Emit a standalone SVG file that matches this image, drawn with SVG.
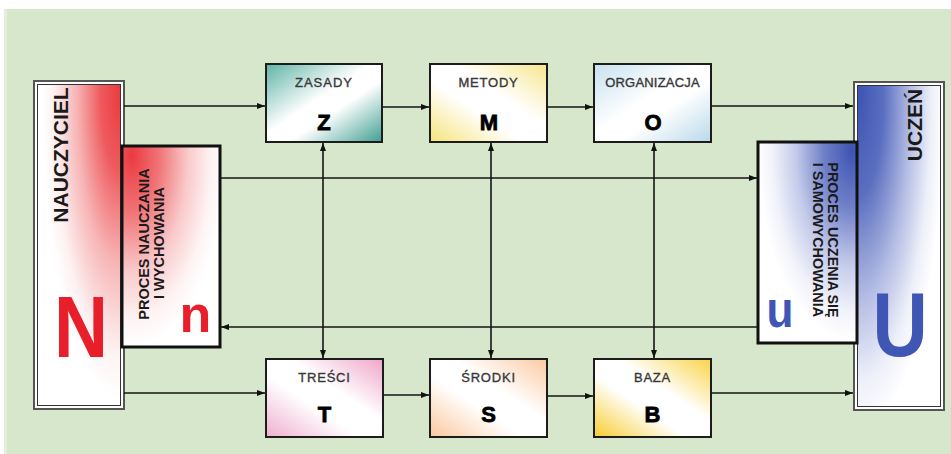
<svg xmlns="http://www.w3.org/2000/svg" width="951" height="454" viewBox="0 0 951 454">
  <style>
    .sans { font-family: "Liberation Sans", Arial, sans-serif; }
    .title { font-family: "Liberation Sans", Arial, sans-serif; font-size: 13px; fill: #383838; stroke: #383838; stroke-width: 0.35; text-anchor: middle; }
    .letter { font-family: "Liberation Sans", Arial, sans-serif; font-size: 22px; font-weight: bold; fill: #000; stroke: #000; stroke-width: 0.8; text-anchor: middle; }
    .vert { font-family: "Liberation Sans", Arial, sans-serif; font-weight: bold; fill: #1a1a1a; text-anchor: middle; }
    .small { stroke: #1c1c1c; stroke-width: 2; }
    .proc { stroke: #111; stroke-width: 3; }
    .frame { fill: #fff; stroke: #555; stroke-width: 2; }
    .inner { stroke: #333; stroke-width: 1; }
    .wire { fill: none; stroke: #151515; stroke-width: 1.6; }
  </style>
  <defs>
    <marker id="arrow" viewBox="0 0 8 6" refX="8" refY="3" markerWidth="8" markerHeight="6" markerUnits="userSpaceOnUse" orient="auto-start-reverse">
      <path d="M0,0 L8,3 L0,6 Z" fill="#111"/>
    </marker>
    <!-- large teacher / pupil panels -->
    <radialGradient id="gN" cx="1" cy="0.03" r="0.95" fx="1" fy="0.03">
      <stop offset="0" stop-color="#eb3a40"/>
      <stop offset="0.25" stop-color="#ee5a5e"/>
      <stop offset="0.55" stop-color="#f7b3b4"/>
      <stop offset="0.85" stop-color="#fdf2f2"/>
      <stop offset="1" stop-color="#ffffff"/>
    </radialGradient>
    <radialGradient id="gn" cx="0.1" cy="0.05" r="0.95" fx="0.1" fy="0.05">
      <stop offset="0" stop-color="#eb3a40"/>
      <stop offset="0.3" stop-color="#f07578"/>
      <stop offset="0.6" stop-color="#f9c9ca"/>
      <stop offset="0.85" stop-color="#fef3f3"/>
      <stop offset="1" stop-color="#ffffff"/>
    </radialGradient>
    <radialGradient id="gU" cx="0" cy="0.03" r="1.05" fx="0" fy="0.03">
      <stop offset="0" stop-color="#3d53b2"/>
      <stop offset="0.3" stop-color="#5b6fc0"/>
      <stop offset="0.6" stop-color="#b2bbe3"/>
      <stop offset="0.85" stop-color="#eef0f9"/>
      <stop offset="1" stop-color="#ffffff"/>
    </radialGradient>
    <radialGradient id="gu" cx="0.95" cy="0.04" r="0.95" fx="0.95" fy="0.04">
      <stop offset="0" stop-color="#3d53b2"/>
      <stop offset="0.3" stop-color="#6f80c8"/>
      <stop offset="0.6" stop-color="#c4cbea"/>
      <stop offset="0.85" stop-color="#f2f3fa"/>
      <stop offset="1" stop-color="#ffffff"/>
    </radialGradient>
    <!-- small boxes -->
    <linearGradient id="gZ" x1="0" y1="0" x2="1" y2="1">
      <stop offset="0" stop-color="#5fb3a6"/>
      <stop offset="0.45" stop-color="#ffffff"/>
      <stop offset="0.6" stop-color="#ffffff"/>
      <stop offset="1" stop-color="#3f9f90"/>
    </linearGradient>
    <linearGradient id="gM" x1="0" y1="1" x2="1" y2="0">
      <stop offset="0" stop-color="#f6e47a"/>
      <stop offset="0.4" stop-color="#ffffff"/>
      <stop offset="0.6" stop-color="#ffffff"/>
      <stop offset="1" stop-color="#f7e68c"/>
    </linearGradient>
    <linearGradient id="gO" x1="0" y1="0" x2="1" y2="1">
      <stop offset="0" stop-color="#c6e1ef"/>
      <stop offset="0.45" stop-color="#ffffff"/>
      <stop offset="0.6" stop-color="#ffffff"/>
      <stop offset="1" stop-color="#b9d9ea"/>
    </linearGradient>
    <linearGradient id="gT" x1="0" y1="1" x2="1" y2="0">
      <stop offset="0" stop-color="#efaecf"/>
      <stop offset="0.4" stop-color="#ffffff"/>
      <stop offset="0.6" stop-color="#ffffff"/>
      <stop offset="1" stop-color="#f0a4c9"/>
    </linearGradient>
    <linearGradient id="gS" x1="0" y1="1" x2="1" y2="0">
      <stop offset="0" stop-color="#fbc89e"/>
      <stop offset="0.4" stop-color="#ffffff"/>
      <stop offset="0.6" stop-color="#ffffff"/>
      <stop offset="1" stop-color="#fcc9a0"/>
    </linearGradient>
    <linearGradient id="gB" x1="0" y1="1" x2="1" y2="0">
      <stop offset="0" stop-color="#f8cd2e"/>
      <stop offset="0.4" stop-color="#ffffff"/>
      <stop offset="0.6" stop-color="#ffffff"/>
      <stop offset="1" stop-color="#f9d445"/>
    </linearGradient>
  </defs>

  <!-- background -->
  <rect x="0" y="0" width="951" height="454" fill="#ffffff"/>
  <rect x="4" y="9" width="947" height="445" fill="#d6e7cb"/>
  <rect x="4" y="9" width="3" height="445" fill="#e3efdb"/>

  <!-- teacher -->
  <g id="nauczyciel">
    <rect class="frame" x="34" y="81" width="90" height="328"/>
    <rect class="inner" x="37.5" y="84.5" width="83" height="321" fill="url(#gN)"/>
    <text class="vert" font-size="21" transform="translate(67.5,155) rotate(-90)">NAUCZYCIEL</text>
    <text class="sans" font-size="88" font-weight="bold" fill="#e81f2a" text-anchor="middle" transform="translate(81,357) scale(0.85,1)">N</text>
  </g>
  <g id="proces-nauczania">
    <rect class="proc" x="122" y="146" width="98" height="201" fill="url(#gn)"/>
    <text class="vert" font-size="14.5" transform="translate(149,244) rotate(-90)">PROCES NAUCZANIA</text>
    <text class="vert" font-size="14.5" transform="translate(164,243) rotate(-90)">I WYCHOWANIA</text>
    <text class="sans" font-size="52" font-weight="bold" fill="#e81f2a" text-anchor="middle" x="195.5" y="332">n</text>
  </g>

  <!-- pupil -->
  <g id="uczen">
    <rect class="frame" x="854" y="82" width="90" height="328"/>
    <rect class="inner" x="857.5" y="85.5" width="83" height="321" fill="url(#gU)"/>
    <text class="vert" font-size="21" transform="translate(922,125) rotate(-90)">UCZEŃ</text>
    <text class="sans" font-size="90" font-weight="bold" fill="#3f56b4" text-anchor="middle" transform="translate(900,356) scale(0.85,1)">U</text>
  </g>
  <g id="proces-uczenia">
    <rect class="proc" x="758" y="142" width="99" height="201" fill="url(#gu)"/>
    <text class="vert" font-size="14.4" transform="translate(828,240) rotate(90)">PROCES UCZENIA SIĘ</text>
    <text class="vert" font-size="14.4" transform="translate(813,240) rotate(90)">I SAMOWYCHOWANIA</text>
    <text class="sans" font-size="52" font-weight="bold" fill="#3f56b4" text-anchor="middle" transform="translate(780,327) scale(0.85,1)">u</text>
  </g>

  <!-- top row -->
  <g id="zasady">
    <rect class="small" x="266" y="64" width="116" height="78" fill="url(#gZ)"/>
    <text class="title" x="324" y="87" letter-spacing="1">ZASADY</text>
    <text class="letter" x="324" y="130">Z</text>
  </g>
  <g id="metody">
    <rect class="small" x="430" y="64" width="117" height="78" fill="url(#gM)"/>
    <text class="title" x="488.5" y="87" letter-spacing="0.8">METODY</text>
    <text class="letter" x="489" y="130">M</text>
  </g>
  <g id="organizacja">
    <rect class="small" x="594" y="64" width="117" height="78" fill="url(#gO)"/>
    <text class="title" x="652.5" y="87" letter-spacing="0.2">ORGANIZACJA</text>
    <text class="letter" x="653" y="130">O</text>
  </g>

  <!-- bottom row -->
  <g id="tresci">
    <rect class="small" x="266" y="359" width="117" height="78" fill="url(#gT)"/>
    <text class="title" x="324.5" y="382" letter-spacing="0.8">TREŚCI</text>
    <text class="letter" x="324.5" y="422">T</text>
  </g>
  <g id="srodki">
    <rect class="small" x="430" y="359" width="117" height="78" fill="url(#gS)"/>
    <text class="title" x="488.5" y="382" letter-spacing="0.8">ŚRODKI</text>
    <text class="letter" x="488.5" y="422">S</text>
  </g>
  <g id="baza">
    <rect class="small" x="594" y="359" width="117" height="78" fill="url(#gB)"/>
    <text class="title" x="652.5" y="382" letter-spacing="0.8">BAZA</text>
    <text class="letter" x="652.5" y="422">B</text>
  </g>

  <!-- connectors -->
  <g id="connectors">
    <path class="wire" d="M124,106 H265" marker-end="url(#arrow)"/>
    <path class="wire" d="M382,107 H429" marker-end="url(#arrow)"/>
    <path class="wire" d="M547,107 H593" marker-end="url(#arrow)"/>
    <path class="wire" d="M711,106 H853" marker-end="url(#arrow)"/>
    <path class="wire" d="M220,178 H757" marker-end="url(#arrow)"/>
    <path class="wire" d="M758,327 H221" marker-end="url(#arrow)"/>
    <path class="wire" d="M124,393 H265" marker-end="url(#arrow)"/>
    <path class="wire" d="M383,395 H429" marker-end="url(#arrow)"/>
    <path class="wire" d="M547,396 H593" marker-end="url(#arrow)"/>
    <path class="wire" d="M711,393 H853" marker-end="url(#arrow)"/>
    <path class="wire" d="M323,143 V358" marker-start="url(#arrow)" marker-end="url(#arrow)"/>
    <path class="wire" d="M491,143 V358" marker-start="url(#arrow)" marker-end="url(#arrow)"/>
    <path class="wire" d="M654,143 V358" marker-start="url(#arrow)" marker-end="url(#arrow)"/>
  </g>
</svg>
